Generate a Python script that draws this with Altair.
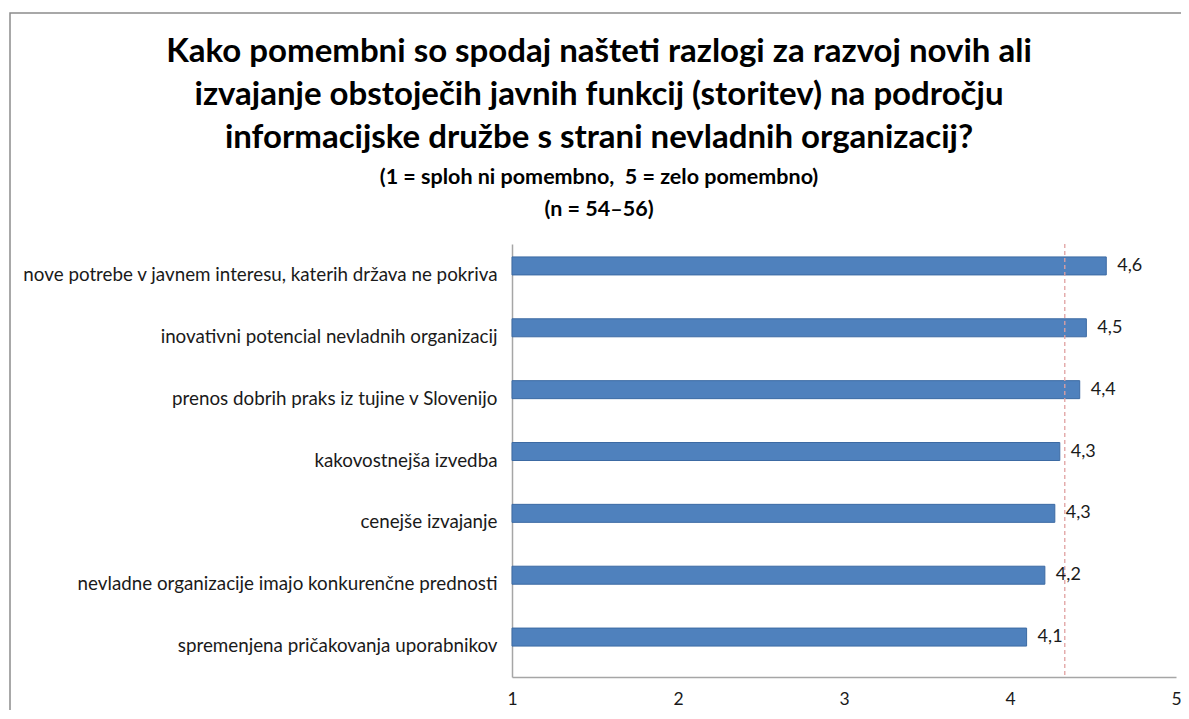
import altair as alt
import pandas as pd

categories = [
    "nove potrebe v javnem interesu, katerih država ne pokriva",
    "inovativni potencial nevladnih organizacij",
    "prenos dobrih praks iz tujine v Slovenijo",
    "kakovostnejša izvedba",
    "cenejše izvajanje",
    "nevladne organizacije imajo konkurenčne prednosti",
    "spremenjena pričakovanja uporabnikov",
]
values = [4.58, 4.46, 4.42, 4.30, 4.27, 4.21, 4.10]
value_labels = ["4,6", "4,5", "4,4", "4,3", "4,3", "4,2", "4,1"]
mean_value = 4.33
x_ticks = [1, 2, 3, 4, 5]
x_min = 1

title_lines = [
    "Kako pomembni so spodaj našteti razlogi za razvoj novih ali",
    "izvajanje obstoječih javnih funkcij (storitev) na področju",
    "informacijske družbe s strani nevladnih organizacij?",
]
subtitle_lines = [
    "(1 = sploh ni pomembno,\u00a0 5 = zelo pomembno)",
    "(n = 54–56)",
]

df = pd.DataFrame({"cat": categories, "val": values, "lab": value_labels})
mean_df = pd.DataFrame({"m": [mean_value]})

FONT = "Lato"

y_enc = alt.Y(
    "cat:N",
    sort=categories,
    title=None,
    scale=alt.Scale(paddingInner=0, paddingOuter=0),
    axis=alt.Axis(
        labelFont=FONT,
        labelFontSize=18.8,
        labelColor="#1a1a1a",
        ticks=False,
        domainColor="#a6a6a6",
        domainWidth=1.5,
        labelPadding=15,
        labelLimit=700,
    ),
)
x_enc = alt.X(
    "val:Q",
    title=None,
    scale=alt.Scale(domain=[1, 5], nice=False, zero=False),
    axis=alt.Axis(
        values=x_ticks,
        format="d",
        labelFont=FONT,
        labelFontSize=17.5,
        labelColor="#1a1a1a",
        labelFlush=False,
        ticks=False,
        domainColor="#a6a6a6",
        domainWidth=1.5,
        grid=False,
        labelPadding=13,
    ),
)

border = alt.Chart(mean_df).mark_rect(
    fill=None, fillOpacity=0, stroke="#8c8c8c", strokeWidth=1.5
).encode(
    x=alt.value(-502), x2=alt.value(700), y=alt.value(-231), y2=alt.value(520)
)

bars = alt.Chart(df).mark_bar(
    size=18, yOffset=-9, color="#4f81bd", stroke="#3c6aa3", strokeWidth=1
).encode(y=y_enc, x=x_enc, x2=alt.datum(x_min))

texts = alt.Chart(df).mark_text(
    align="left", baseline="middle", dx=11, yOffset=-9,
    font=FONT, fontSize=18, color="#1a1a1a"
).encode(y=alt.Y("cat:N", sort=categories), x=alt.X("val:Q"), text="lab:N")

mean_rule = alt.Chart(mean_df).mark_rule(
    color="#e0a0a0", strokeDash=[4, 3], strokeWidth=1.3
).encode(x=alt.X("m:Q"))

chart = alt.layer(border, bars, mean_rule, texts).properties(
    width=664,
    height=433,
    autosize=alt.AutoSizeParams(type="none"),
    padding={"left": 504, "top": 236, "right": 5, "bottom": 33},
    title=alt.TitleParams(
        text=title_lines,
        subtitle=subtitle_lines,
        font=FONT,
        fontSize=33,
        fontWeight="bold",
        color="#000000",
        lineHeight=43,
        subtitleFont=FONT,
        subtitleFontSize=21.5,
        subtitleFontWeight="bold",
        subtitleColor="#000000",
        subtitleLineHeight=32,
        subtitlePadding=12,
        anchor="middle",
        frame="group",
        dx=-245,
        offset=-208,
    ),
).configure_view(stroke=None)

chart.save("out.html", embed_options={"renderer": "svg", "actions": False})
